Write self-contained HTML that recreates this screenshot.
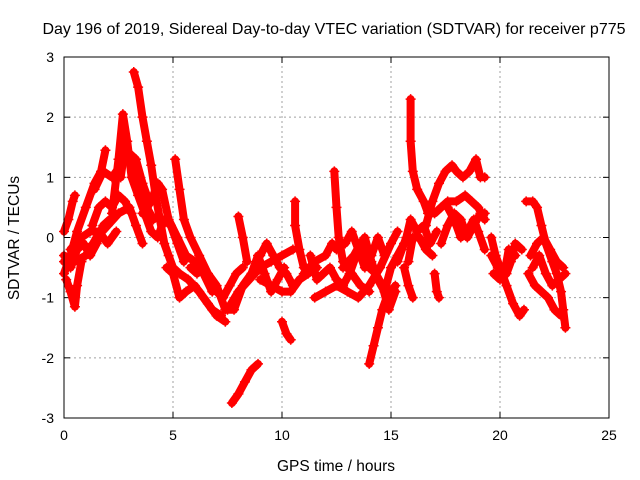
<!DOCTYPE html>
<html><head><meta charset="utf-8"><style>
body{margin:0;background:#fff}
svg{display:block;font-family:"Liberation Sans",Arial,sans-serif}
</style></head><body>
<svg id="c" width="640" height="480">
<text x="334" y="34" text-anchor="middle" font-size="16">Day 196 of 2019, Sidereal Day-to-day VTEC variation (SDTVAR) for receiver p775</text>
<text x="336" y="471" text-anchor="middle" font-size="15.5">GPS time / hours</text>
<text transform="translate(19,238) rotate(-90)" text-anchor="middle" font-size="15.5">SDTVAR / TECUs</text>
<g id="grid"></g>
<g id="ticks"></g>
<g id="marks"></g>
<rect x="64" y="57" width="545" height="361" fill="none" stroke="#000" stroke-width="1"/>
</svg>
<script>
const xTicks=[0,5,10,15,20,25];
const yTicks=[-3,-2,-1,0,1,2,3];
const tracks=[
[[0,-0.6],[0.3,-0.3],[0.6,0.1],[1.0,0.5],[1.4,0.9],[1.7,1.1],[1.9,1.45]],
[[0,0.1],[0.2,0.3],[0.4,0.6],[0.5,0.7]],
[[0.1,-0.7],[0.3,-0.9],[0.5,-1.15],[0.6,-0.8],[0.8,-0.4]],
[[0,-0.3],[0.5,-0.4],[1.0,-0.3],[1.5,0],[2.0,0.2],[2.5,0.4],[3.0,0.5],[3.3,0.2],[3.6,-0.1]],
[[0.3,-0.2],[0.8,0],[1.2,0.1],[1.6,0.1],[2.0,-0.1],[2.4,0.1]],
[[0,-0.4],[0.3,-0.5],[0.6,-0.2],[0.9,-0.1],[1.2,-0.3],[1.5,-0.1],[1.8,0.2],[2.1,0.3]],
[[1.3,0.2],[1.6,0.5],[1.9,0.6],[2.2,0.5],[2.5,0.7],[2.8,0.6],[3.1,0.4]],
[[2.2,0.4],[2.5,1.3],[2.7,2.05],[2.9,1.6],[3.1,1.0],[3.4,0.7],[3.7,0.4],[4.0,0.1],[4.3,0],[4.6,0.3],[4.9,0.2],[5.2,-0.1],[5.5,-0.4]],
[[2.6,1.0],[2.8,1.5],[3.0,1.3],[3.3,1.1],[3.5,0.8],[3.8,0.5],[4.1,0.3]],
[[3.2,2.75],[3.4,2.5],[3.6,2.0],[3.8,1.6],[4.0,1.2],[4.2,0.7],[4.4,0.3],[4.6,-0.1],[4.8,-0.3],[5.0,-0.5],[5.3,-0.6],[5.7,-0.7],[6.2,-0.9],[6.6,-1.1],[7.0,-1.3],[7.4,-1.4]],
[[1.4,0.8],[1.8,1.1],[2.2,1.0],[2.6,1.2],[3.0,1.4],[3.3,1.3],[3.6,0.9],[3.9,0.6]],
[[3.6,0.4],[4.0,0.6],[4.3,0.9],[4.5,0.8],[4.8,0.3],[5.2,0],[5.6,-0.3],[6.0,-0.4],[6.4,-0.6],[6.8,-0.9]],
[[5.1,1.3],[5.3,0.8],[5.5,0.3],[5.8,0],[6.2,-0.3],[6.6,-0.6],[7.0,-0.8],[7.4,-1.2],[7.8,-1.2],[8.2,-0.8],[8.6,-0.6]],
[[4.7,-0.5],[5.0,-0.6],[5.3,-1.0],[5.6,-0.9],[6.0,-0.8],[6.4,-1.0],[6.8,-1.2],[7.2,-1.3]],
[[5.8,-0.5],[6.1,-0.6],[6.4,-0.5],[6.7,-0.7],[7.0,-0.9],[7.3,-1.0],[7.6,-0.8],[7.9,-0.6],[8.2,-0.5]],
[[7.7,-2.75],[8.0,-2.6],[8.3,-2.4],[8.6,-2.2],[8.9,-2.1]],
[[8.0,0.35],[8.2,0],[8.4,-0.4]],
[[7.5,-1.2],[8.0,-0.9],[8.5,-0.7],[9.0,-0.5],[9.5,-0.4],[10,-0.3],[10.5,-0.2]],
[[8.6,-0.6],[8.9,-0.3],[9.2,-0.6],[9.5,-0.9],[9.8,-0.7],[10.1,-0.5]],
[[9.0,-0.3],[9.3,-0.1],[9.6,-0.3],[9.9,-0.5],[10.2,-0.6],[10.5,-0.8]],
[[9,-0.7],[9.5,-0.8],[10,-0.9],[10.4,-0.9],[10.8,-0.7],[11.2,-0.6],[11.6,-0.5]],
[[10,-1.4],[10.2,-1.6],[10.4,-1.7]],
[[10.6,0.6],[10.6,0.2],[10.8,-0.2],[11,-0.5]],
[[11,-0.6],[11.5,-0.4],[12,-0.3],[12.3,-0.1],[12.5,-0.2]],
[[11.3,-0.3],[11.6,-0.7],[11.9,-0.6],[12.2,-0.5],[12.5,-0.7],[12.8,-0.8],[13.1,-0.6],[13.4,-0.3],[13.7,-0.2],[14.0,-0.5],[14.3,-0.6],[14.6,-0.8],[14.9,-1.2],[15.2,-0.9]],
[[12.4,1.1],[12.5,0.5],[12.6,0],[12.8,-0.4],[13.2,-0.6],[13.6,-0.8],[14,-0.9]],
[[12.9,-0.1],[13.2,0.1],[13.5,-0.2],[13.8,-0.5],[14.1,-0.3],[14.4,0.0],[14.7,-0.3]],
[[12.8,-0.5],[13.3,-0.3],[13.6,-0.1],[13.8,0],[14.1,-0.4],[14.4,-0.7],[14.7,-0.9],[15.0,-0.5],[15.3,-0.3],[15.6,-0.1]],
[[14.0,-2.1],[14.2,-1.8],[14.4,-1.5],[14.6,-1.2],[14.8,-1.0],[15.0,-0.9],[15.2,-0.8]],
[[11.5,-1.0],[12,-0.9],[12.5,-0.8],[13,-0.9],[13.5,-1.0],[14,-0.8],[14.5,-0.5],[15,-0.1],[15.3,0.1]],
[[15.3,-0.4],[15.5,-0.2],[15.7,0.0],[15.9,0.3],[16.2,0.1],[16.5,0.2],[16.8,-0.1],[17.1,0.1]],
[[15.9,2.3],[15.9,1.6],[16.0,1.1],[16.2,0.8],[16.5,0.6],[16.7,0.4],[17.0,0.4],[17.3,0.5],[17.6,0.6],[18,0.6],[18.4,0.7],[18.7,0.6],[19,0.5],[19.3,0.3]],
[[16.6,0.2],[16.9,0.6],[17.2,0.9],[17.5,1.1],[17.8,1.2],[18.0,1.1],[18.3,1.0],[18.6,1.1],[18.9,1.3],[19.1,1.0],[19.3,1.0]],
[[15.8,-0.4],[16,0],[16.3,0],[16.6,-0.2],[16.9,-0.3]],
[[15.6,-0.5],[15.8,-0.8],[16.0,-1.0]],
[[17.0,-0.6],[17.1,-0.9],[17.2,-1.0]],
[[17.6,0.5],[17.9,0.3],[18.2,0],[18.5,0.1],[18.8,0.3],[19.0,0.1],[19.3,-0.2]],
[[17.3,-0.1],[17.6,0.2],[17.9,0.4],[18.2,0.3],[18.5,0.0],[18.8,0.2],[19.1,0.4],[19.3,0.4]],
[[19.6,0.0],[19.8,-0.3],[20,-0.5],[20.3,-0.8],[20.6,-1.1],[20.9,-1.3],[21.1,-1.2]],
[[19.7,-0.6],[20,-0.7],[20.3,-0.6],[20.5,-0.4],[20.7,-0.1],[21.0,-0.2]],
[[19.6,-0.3],[19.9,-0.5],[20.2,-0.6],[20.4,-0.2],[20.7,-0.3]],
[[21.2,0.6],[21.5,0.6],[21.7,0.5],[21.9,0.2],[22.1,-0.1],[22.4,-0.4],[22.6,-0.6],[22.8,-0.9],[22.9,-1.2],[23,-1.5]],
[[21.4,-0.3],[21.7,-0.1],[22.0,0],[22.3,-0.2],[22.6,-0.4],[22.9,-0.5]],
[[21.5,-0.5],[21.8,-0.3],[22.1,-0.6],[22.4,-0.8],[22.7,-0.7],[23.0,-0.6]],
[[21.3,-0.6],[21.6,-0.8],[21.9,-0.9],[22.2,-1.0],[22.5,-1.2],[22.8,-1.3]]
];
const NS='http://www.w3.org/2000/svg';
const X0=64,X1=609,Y0=418,Y1=57;
function sx(t){return X0+(t-0)/(25-0)*(X1-X0);}
function sy(v){return Y0-(v+3)/6*(Y0-Y1);}
function mk(tag,attrs,parent){const e=document.createElementNS(NS,tag);for(const k in attrs)e.setAttribute(k,attrs[k]);parent.appendChild(e);return e;}
const grid=document.getElementById('grid'),ticks=document.getElementById('ticks'),marks=document.getElementById('marks');
xTicks.forEach(t=>{const x=sx(t);
 if(t>0&&t<25){const g=mk('line',{x1:x,x2:x,y1:Y0,y2:Y1,stroke:'#a0a0a0','stroke-dasharray':'2,3'},grid);}
 mk('line',{x1:x,x2:x,y1:Y0,y2:Y0-6,stroke:'#000'},ticks);mk('line',{x1:x,x2:x,y1:Y1,y2:Y1+6,stroke:'#000'},ticks);
 const l=mk('text',{x:x,y:Y0+22,'text-anchor':'middle','font-size':'14'},ticks);l.textContent=t;
 
 
});
yTicks.forEach(v=>{const y=sy(v);
 if(v>-3&&v<3){const g=mk('line',{x1:X0,x2:X1,y1:y,y2:y,stroke:'#a0a0a0','stroke-dasharray':'2,3'},grid);}
 mk('line',{x1:X0,x2:X0+6,y1:y,y2:y,stroke:'#000'},ticks);mk('line',{x1:X1,x2:X1-6,y1:y,y2:y,stroke:'#000'},ticks);
 const l=mk('text',{x:X0-10,y:y+5,'text-anchor':'end','font-size':'14'},ticks);l.textContent=v;
 
 
});
tracks.forEach((tr,i)=>{
 const g=mk('g',{},marks);
 
 
 const pts=tr.map(p=>sx(p[0]).toFixed(1)+','+sy(p[1]).toFixed(1)).join(' ');
 mk('polyline',{points:pts,fill:'none',stroke:'#ff0000','stroke-width':'8','stroke-linejoin':'round','stroke-linecap':'round'},g);
 let d='';tr.forEach(p=>{const x=sx(p[0]),y=sy(p[1]);d+=`M${x-5},${y}h10M${x},${y-5}v10`;});
 mk('path',{d:d,stroke:'#ff0000','stroke-width':'1.5',fill:'none'},g);
});
</script>
</body></html>
